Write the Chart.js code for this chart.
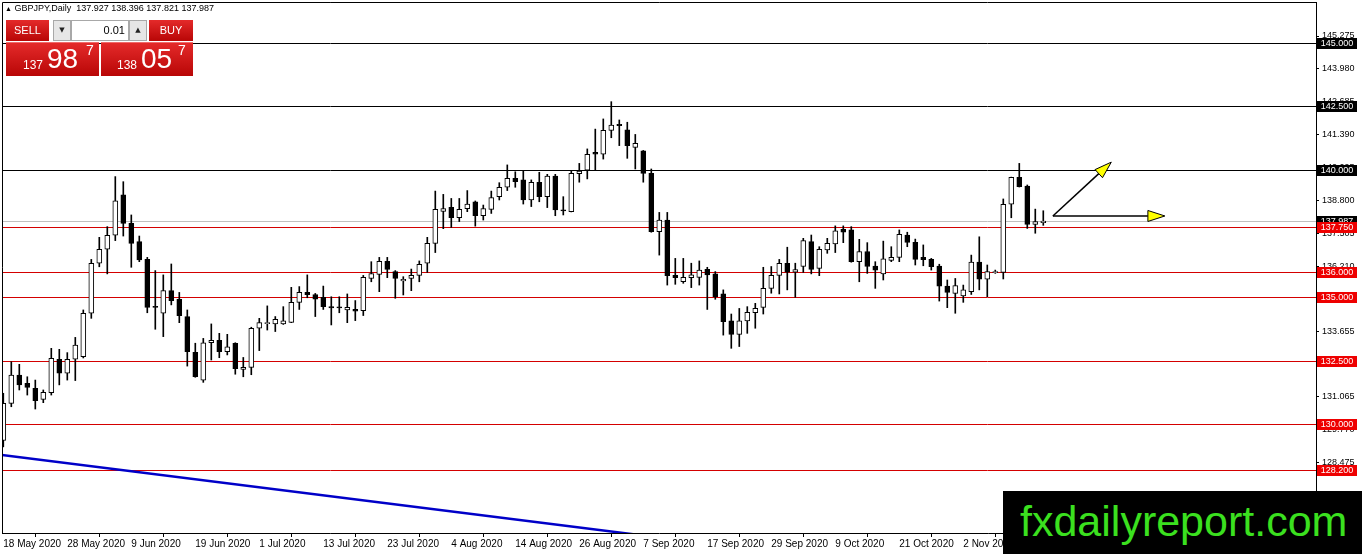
<!DOCTYPE html>
<html>
<head>
<meta charset="utf-8">
<script src="https://cdn.jsdelivr.net/npm/chart.js@4.4.1/dist/chart.umd.min.js"></script>
<style>
  body { margin: 0; background: #fff; overflow: hidden; }
  #wrap { position: relative; width: 1362px; height: 554px; }
  #hdr { position: absolute; left: 5px; top: 3px; font: 9px "Liberation Sans", Arial, sans-serif; color: #000; white-space: pre; }
  #hdr .tri { font-size: 7px; }
  .red { position: absolute; background: linear-gradient(#e42a2a, #b80606); color: #fff; font-family: "Liberation Sans", Arial, sans-serif; }
  .btn { top: 20px; height: 21px; line-height: 21px; text-align: center; font-size: 11px; }
  .gray { position: absolute; top: 20px; height: 19px; width: 16px; background: #e6e6e6; border: 1px solid #a8a8a8; font: 7px "DejaVu Sans", sans-serif; line-height: 19px; text-align: center; color: #222; }
  #lot { position: absolute; top: 20px; left: 71px; width: 53px; height: 19px; background: #fff; border: 1px solid #a8a8a8; font: 11px "Liberation Sans", Arial, sans-serif; line-height: 19px; text-align: right; padding-right: 3px; }
  .big { top: 42px; height: 34px; border-top: 1px solid #f06a6a; box-sizing: border-box; }
  .big span { position: absolute; white-space: pre; }
  .s1 { font-size: 12px; line-height: 12px; top: 16px; }
  .s2 { font-size: 28px; line-height: 28px; top: 2px; }
  .s3 { font-size: 14px; line-height: 14px; top: 0px; }
  #wm { position: absolute; left: 1003px; top: 491px; width: 359px; height: 63px; background: #000; }
  #wm span { position: absolute; left: 17px; top: 6px; font: 43px "Liberation Sans", Arial, sans-serif; color: #3be01f; line-height: 48px; white-space: pre; }
</style>
</head>
<body>
<div id="wrap">
  <canvas id="chart"></canvas>
  <div id="hdr"><span class="tri">▲</span> GBPJPY,Daily  137.927 138.396 137.821 137.987</div>
  <div class="red btn" style="left:6px;width:43px">SELL</div>
  <div class="gray" style="left:53px">▼</div>
  <div id="lot">0.01</div>
  <div class="gray" style="left:129px">▲</div>
  <div class="red btn" style="left:149px;width:44px">BUY</div>
  <div class="red big" style="left:6px;width:93px"><span class="s1" style="left:17px">137</span><span class="s2" style="left:41px">98</span><span class="s3" style="left:80px">7</span></div>
  <div class="red big" style="left:101px;width:92px"><span class="s1" style="left:16px">138</span><span class="s2" style="left:40px">05</span><span class="s3" style="left:77px">7</span></div>
  <div id="wm"><span>fxdailyreport.com</span></div>
</div>
<script>
// GBPJPY daily candles, 18 May 2020 .. 16 Nov 2020
const opens = [129.35,130.81,131.93,131.60,131.40,130.97,131.23,132.55,132.00,132.55,
  132.65,134.36,136.33,136.88,137.43,139.02,137.90,137.18,136.48,134.62,
  134.36,135.25,134.91,134.23,132.82,131.73,133.20,133.29,132.85,133.18,
  132.15,132.23,133.77,133.95,133.94,133.94,134.00,134.79,135.18,135.10,
  134.99,134.62,134.58,134.49,134.51,134.46,135.73,135.89,136.40,136.00,
  135.63,135.73,135.85,136.33,137.11,138.37,138.53,138.12,138.48,138.75,
  138.20,138.45,138.95,139.32,139.67,139.61,138.82,139.51,138.95,139.76,
  138.41,138.36,139.86,139.99,140.70,140.62,141.56,141.80,141.58,140.89,
  140.75,139.87,137.57,138.03,135.85,135.60,135.76,135.77,136.09,135.91,
  135.12,134.06,133.53,134.06,134.38,134.59,135.34,135.85,136.33,135.98,
  136.20,137.18,136.13,136.85,137.09,137.66,137.64,136.39,136.79,136.22,
  135.91,136.44,136.56,137.44,137.15,136.56,136.48,136.22,135.43,135.14,
  135.04,135.21,136.37,135.70,135.96,135.97,138.65,139.71,139.37,137.86,
  137.927];
const highs = [131.21,132.45,132.35,131.86,131.73,131.34,132.98,132.94,132.81,133.41,
  134.49,136.48,137.35,137.77,139.74,139.54,138.23,137.40,136.56,136.04,
  135.87,136.30,135.18,134.49,133.18,133.37,133.94,133.57,133.53,133.20,
  132.62,133.81,134.16,134.65,134.23,134.62,135.38,135.41,135.87,135.14,
  135.43,135.01,135.01,135.12,134.86,135.85,136.39,136.56,136.56,136.04,
  135.80,136.10,136.42,137.35,139.17,139.04,138.88,138.88,139.19,138.78,
  138.62,139.17,139.50,140.20,139.93,139.97,139.61,139.91,139.83,139.83,
  138.95,139.96,140.26,140.83,141.61,142.01,142.69,141.97,141.88,141.40,
  140.77,140.04,138.33,138.33,136.52,136.52,136.33,136.42,136.17,136.00,
  135.28,134.33,134.55,134.62,134.75,136.17,136.20,136.48,136.96,136.33,
  137.31,137.44,136.98,137.31,137.80,137.80,137.77,137.27,137.14,136.39,
  137.20,136.98,137.64,137.55,137.28,137.05,136.52,136.29,135.67,135.73,
  135.47,136.65,137.37,136.26,136.06,138.86,139.72,140.26,139.41,138.46,
  138.396];
const lows = [129.10,130.68,131.34,131.14,130.59,130.84,131.14,131.54,131.73,131.71,
  132.60,134.16,136.19,135.91,137.22,137.40,136.17,136.39,134.38,133.73,
  133.44,134.69,133.99,132.28,131.84,131.64,132.52,132.61,132.72,131.96,
  131.86,131.94,132.89,133.70,133.64,133.92,133.99,134.51,134.97,134.23,
  134.51,133.90,134.38,133.99,134.07,134.27,135.60,135.21,135.76,134.95,
  135.08,135.25,135.60,135.97,136.75,137.69,137.74,137.97,138.36,137.79,
  138.03,138.29,138.82,139.19,139.32,138.66,138.56,138.75,138.52,138.20,
  138.23,138.35,139.52,139.65,139.99,140.43,141.27,140.96,140.46,140.04,
  139.52,137.55,136.65,135.47,135.50,135.54,135.37,135.47,134.51,134.91,
  133.50,132.98,133.05,133.57,133.77,134.33,135.15,135.12,135.28,134.99,
  135.97,135.91,135.84,136.72,136.75,137.14,136.37,135.60,135.93,135.34,
  135.67,136.39,136.39,136.98,136.26,136.23,136.06,134.84,134.58,134.36,
  134.79,135.10,135.28,135.01,135.93,135.71,138.12,139.33,137.70,137.51,
  137.821];
const closes = [130.81,131.93,131.54,131.44,130.92,131.25,132.59,132.00,132.55,133.11,
  134.36,136.33,136.88,137.43,138.79,137.90,137.11,136.46,134.59,134.59,
  135.25,134.86,134.27,132.85,131.86,133.20,133.29,132.85,133.04,132.18,
  132.23,133.77,133.99,133.98,134.12,134.06,134.79,135.18,135.09,134.91,
  134.62,134.57,134.57,134.59,134.44,135.77,135.92,136.40,136.09,135.73,
  135.70,135.85,136.29,137.11,138.45,138.48,138.12,138.45,138.66,138.20,
  138.48,138.91,139.32,139.67,139.54,138.82,139.51,138.95,139.76,138.43,
  138.39,139.87,139.96,140.62,140.62,141.56,141.77,141.75,140.96,141.05,
  139.87,137.57,138.03,135.84,135.76,135.77,135.87,136.06,135.87,135.01,
  134.03,133.53,134.06,134.40,134.55,135.34,135.85,136.33,135.98,136.08,
  137.22,136.09,136.88,137.11,137.61,137.55,136.39,136.79,136.20,136.06,
  136.50,136.56,137.47,137.15,136.48,136.47,136.19,135.43,135.18,135.45,
  135.28,136.37,135.70,136.00,135.99,138.65,139.71,139.34,137.86,137.97,
  137.987];

// time axis labels, one every 8 bars
const dateLabels = ["18 May 2020", "28 May 2020", "9 Jun 2020", "19 Jun 2020", "1 Jul 2020",
  "13 Jul 2020", "23 Jul 2020", "4 Aug 2020", "14 Aug 2020", "26 Aug 2020", "7 Sep 2020",
  "17 Sep 2020", "29 Sep 2020", "9 Oct 2020", "21 Oct 2020", "2 Nov 2020"];
const dateIdx = [0, 8, 16, 24, 32, 40, 48, 56, 64, 72, 80, 88, 96, 104, 112, 120];

// price axis labels
const yTickValues = [145.275, 143.980, 142.685, 141.390, 140.095, 138.800, 137.505,
  136.210, 134.950, 133.655, 132.360, 131.065, 129.770, 128.475];

// drawn objects
const blackLevels = [145.0, 142.5, 140.0];
const redLevels = [137.75, 136.0, 135.0, 132.5, 130.0, 128.2];
const trendLine = [{ x: -1, y: 128.81 }, { x: 100, y: 124.82 }];
const arrowFrom = { x: 131.2, y: 138.19 };
const arrowTo = [{ x: 138.5, y: 140.31 }, { x: 145.2, y: 138.19 }];

const bidPrice = closes[closes.length - 1];
const wicks = highs.map((h, i) => ({ x: i, y: [lows[i], h] }));
const bodies = opens.map((o, i) => ({ x: i, y: [o, closes[i]] }));
const bodyColors = opens.map((o, i) => closes[i] >= o ? "#ffffff" : "#000000");

const AXIS_FONT = "Liberation Sans";

const overlay = {
  id: "overlay",
  beforeDatasetsDraw(chart) {
    const { ctx, chartArea: a, scales: { y } } = chart;
    ctx.save();
    ctx.lineWidth = 1;
    const hline = (v, c) => {
      const py = Math.round(y.getPixelForValue(v)) + 0.5;
      ctx.strokeStyle = c;
      ctx.beginPath();
      ctx.moveTo(a.left, py);
      ctx.lineTo(a.right, py);
      ctx.stroke();
    };
    hline(bidPrice, "#c0c0c0");
    blackLevels.forEach(v => hline(v, "#000000"));
    redLevels.forEach(v => hline(v, "#d40000"));
    ctx.restore();
  },
  afterDraw(chart) {
    const { ctx, chartArea: a, scales: { x, y } } = chart;
    ctx.save();

    // frame left + top
    ctx.strokeStyle = "#000";
    ctx.lineWidth = 1;
    ctx.beginPath();
    ctx.moveTo(a.left + 0.5, a.bottom);
    ctx.lineTo(a.left + 0.5, a.top + 0.5);
    ctx.lineTo(a.right, a.top + 0.5);
    ctx.stroke();

    // arrows
    const sx = x.getPixelForValue(arrowFrom.x), sy = y.getPixelForValue(arrowFrom.y);
    arrowTo.forEach(t => {
      const tx = x.getPixelForValue(t.x), ty = y.getPixelForValue(t.y);
      const ang = Math.atan2(ty - sy, tx - sx);
      const len = 17, hw = 5.5;
      const bx = tx - len * Math.cos(ang), by = ty - len * Math.sin(ang);
      const px = -Math.sin(ang) * hw, py = Math.cos(ang) * hw;
      ctx.strokeStyle = "#000";
      ctx.lineWidth = 1.5;
      ctx.beginPath();
      ctx.moveTo(sx, sy);
      ctx.lineTo(bx, by);
      ctx.stroke();
      ctx.beginPath();
      ctx.moveTo(tx, ty);
      ctx.lineTo(bx + px, by + py);
      ctx.lineTo(bx - px, by - py);
      ctx.closePath();
      ctx.fillStyle = "#ffff00";
      ctx.fill();
      ctx.lineWidth = 1;
      ctx.stroke();
    });

    // price boxes on the axis
    ctx.font = "9px " + AXIS_FONT;
    ctx.textBaseline = "middle";
    ctx.textAlign = "center";
    const box = (v, bg) => {
      const py = Math.round(y.getPixelForValue(v));
      ctx.fillStyle = bg;
      ctx.fillRect(a.right + 1, py - 5, 40, 11);
      ctx.fillStyle = "#fff";
      ctx.fillText(v.toFixed(3), a.right + 21, py + 0.5);
    };
    box(bidPrice, "#000000");
    blackLevels.forEach(v => box(v, "#000000"));
    redLevels.forEach(v => box(v, "#ee0000"));
    ctx.restore();
  }
};

const noPad = s => { s.paddingTop = 0; s.paddingBottom = 0; s.paddingLeft = 0; s.paddingRight = 0; };

new Chart(document.getElementById("chart"), {
  type: "bar",
  data: {
    datasets: [
      {
        type: "line",
        data: trendLine,
        borderColor: "#0000c8",
        borderWidth: 2.5,
        pointRadius: 0,
        order: 3
      },
      {
        data: wicks,
        backgroundColor: "#000",
        borderWidth: 0,
        barThickness: 1,
        grouped: false,
        order: 2
      },
      {
        data: bodies,
        backgroundColor: bodyColors,
        borderColor: "#000",
        borderWidth: 1,
        borderSkipped: false,
        barThickness: 5,
        minBarLength: 1,
        grouped: false,
        order: 1
      }
    ]
  },
  options: {
    responsive: true,
    maintainAspectRatio: false,
    animation: false,
    devicePixelRatio: 1,
    layout: { padding: { left: 2, top: 2, right: 0, bottom: 0 } },
    plugins: { legend: { display: false }, tooltip: { enabled: false } },
    scales: {
      x: {
        type: "linear",
        offset: false,
        min: -0.1625,
        max: 164.09,
        afterBuildTicks: s => { s.ticks = dateIdx.map(v => ({ value: v })); },
        afterFit: s => { s.height = 21; noPad(s); },
        ticks: {
          autoSkip: false,
          maxRotation: 0,
          align: "start",
          padding: 1,
          color: "#000",
          font: { family: AXIS_FONT, size: 10 },
          callback: (v, i) => dateLabels[i]
        },
        grid: { drawOnChartArea: false, tickLength: 4, color: "#000" },
        border: { color: "#000" }
      },
      y: {
        position: "right",
        min: 125.709,
        max: 146.614,
        afterBuildTicks: s => { s.ticks = yTickValues.map(v => ({ value: v })); },
        afterFit: s => { s.width = 46; noPad(s); },
        ticks: {
          padding: 3,
          color: "#000",
          font: { family: AXIS_FONT, size: 9 },
          callback: v => v.toFixed(3)
        },
        grid: { drawOnChartArea: false, tickLength: 3, color: "#000" },
        border: { color: "#000" }
      }
    }
  },
  plugins: [overlay]
});
</script>
</body>
</html>
